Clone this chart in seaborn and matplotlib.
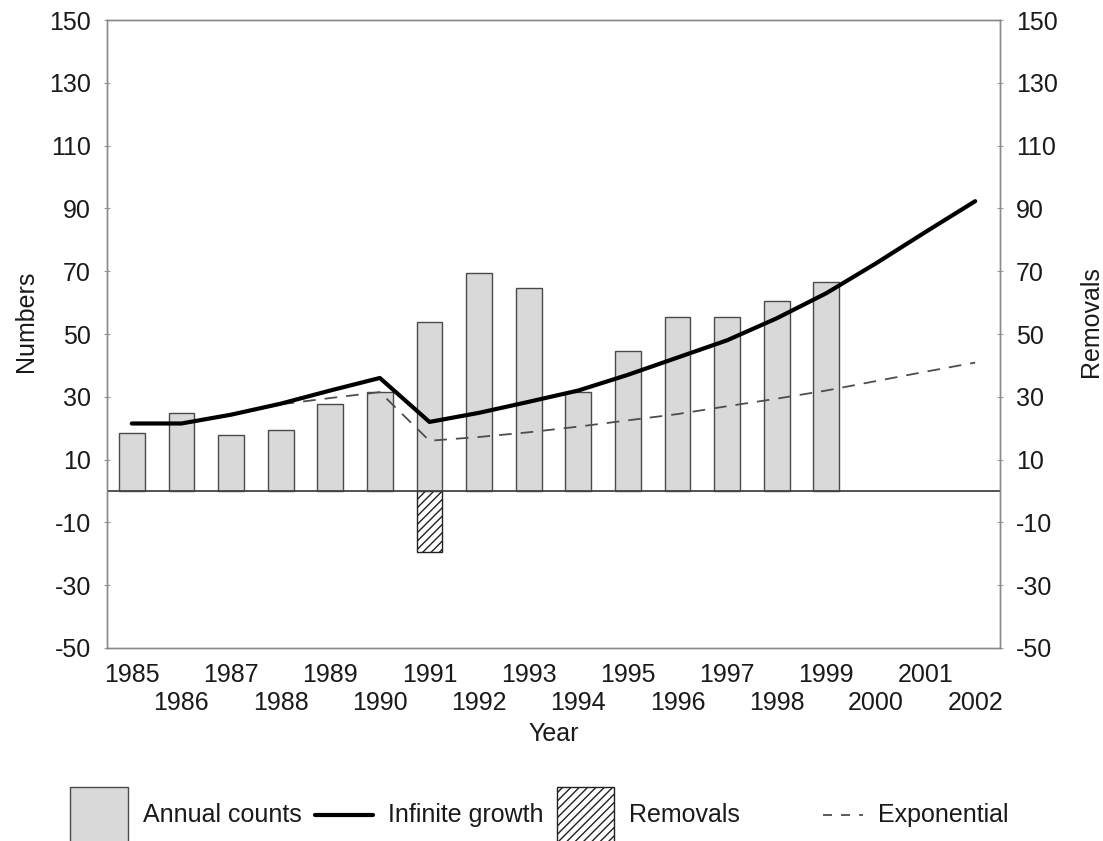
import numpy as np
import pandas as pd
import matplotlib
matplotlib.use("Agg")
import matplotlib.pyplot as plt
import seaborn as sns
from matplotlib.patches import Patch
from matplotlib.lines import Line2D
from matplotlib.legend_handler import HandlerLine2D

# ---- data -------------------------------------------------------------
years = [str(y) for y in range(1985, 2003)]
count_years = [str(y) for y in range(1985, 2000)]
annual_counts = [18.5, 24.8, 17.8, 19.5, 27.6, 31.4, 53.7, 69.5, 64.5,
                 31.6, 44.7, 55.5, 55.5, 60.6, 66.6]
removal_years = ["1991"]
removals = [-19.3]
infinite_growth = [21.5, 21.5, 24.3, 27.8, 32.0, 36.0, 22.0, 24.9, 28.4,
                   32.0, 37.0, 42.5, 48.0, 55.0, 63.0, 72.5, 82.5, 92.3]
exponential = [21.5, 21.5, 24.3, 27.6, 29.6, 31.5, 16.0, 17.2, 18.7,
               20.5, 22.5, 24.5, 27.0, 29.4, 32.0, 35.0, 38.0, 40.9]
y_ticks = list(range(-50, 151, 20))

# ---- style ------------------------------------------------------------
sns.set_style("white")
plt.rcParams["font.family"] = ["Liberation Sans", "DejaVu Sans"]
plt.rcParams["axes.unicode_minus"] = False
plt.rcParams["hatch.linewidth"] = 1.0
FS = 18
TXT = "#1a1a1a"
SPINE = "#8a8a8a"


class CenteredLineHandler(HandlerLine2D):
    """Legend line drawn at the vertical middle of a tall handle box."""

    def create_artists(self, legend, orig_handle, xdescent, ydescent,
                       width, height, fontsize, trans):
        arts = super().create_artists(legend, orig_handle, xdescent, ydescent,
                                      width, height, fontsize, trans)
        for a in arts:
            a.set_ydata(np.asarray(a.get_ydata(), dtype=float) - ydescent / 2)
        return arts


fig = plt.figure(figsize=(11.03, 8.41), dpi=100)
ax = fig.add_axes([0.097, 0.2295, 0.8096, 0.7467])

counts_df = pd.DataFrame({"Year": count_years, "Numbers": annual_counts})
sns.barplot(data=counts_df, x="Year", y="Numbers", order=years,
            color="#d9d9d9", saturation=1, width=0.52,
            edgecolor="#4a4a4a", linewidth=1.0, ax=ax, zorder=2)

rem_df = pd.DataFrame({"Year": removal_years, "Removals": removals})
sns.barplot(data=rem_df, x="Year", y="Removals", order=years,
            color="white", saturation=1, width=0.52, hatch="////",
            edgecolor="#222222", linewidth=1.0, ax=ax, zorder=2)

idx = np.arange(len(years))
sns.lineplot(x=idx, y=exponential, color="#4d4d4d", lw=1.3,
             linestyle=(0, (7, 5)), ax=ax, zorder=3)
sns.lineplot(x=idx, y=infinite_growth, color="black", lw=3.0,
             ax=ax, zorder=4)

ax.axhline(0, color="#444444", lw=1.3, zorder=3)

ax.set_xlim(-0.5, len(years) - 0.5)
ax.set_ylim(-50, 150)
ax.set_yticks(y_ticks)
ax.set_xticks(idx)
ax.set_xticklabels(years, fontsize=FS, color=TXT)
ax.tick_params(axis="x", length=0, pad=11)
ax.tick_params(axis="y", labelsize=FS, labelcolor=TXT, length=5,
               direction="inout", color="#9a9a9a", pad=9)
# staggered year labels: every second year sits on a lower row
for i, tick in enumerate(ax.xaxis.get_major_ticks()):
    if i % 2 == 1:
        tick.set_pad(31)
ax.set_xlabel("Year", fontsize=FS, color=TXT, labelpad=5)
ax.set_ylabel("Numbers", fontsize=FS, color=TXT, labelpad=8)
ax.yaxis.label.set_y(0.52)

for s in ax.spines.values():
    s.set_color(SPINE)
    s.set_linewidth(1.0)

ax2 = ax.twinx()
ax2.set_ylim(-50, 150)
ax2.set_yticks(y_ticks)
ax2.tick_params(axis="y", labelsize=FS, labelcolor=TXT, length=5,
                direction="inout", color="#9a9a9a", pad=9)
ax2.set_ylabel("Removals", fontsize=FS, color=TXT, labelpad=15)
ax2.yaxis.label.set_y(0.52)
for s in ax2.spines.values():
    s.set_color(SPINE)
    s.set_linewidth(1.0)

# ---- legend -----------------------------------------------------------
growth_handle = Line2D([], [], color="black", lw=3.0)
main_handles = [
    Patch(facecolor="#d9d9d9", edgecolor="#4a4a4a", linewidth=1.0),
    growth_handle,
    Patch(facecolor="white", edgecolor="#222222", hatch="////", linewidth=1.0),
]
main_labels = ["Annual counts", "Infinite growth", "Removals"]
leg1 = fig.legend(main_handles, main_labels, loc="center left",
                  bbox_to_anchor=(0.0635, 0.031), ncol=3, frameon=False,
                  fontsize=FS, handlelength=2.3, handleheight=3.0,
                  handletextpad=0.6, columnspacing=0.55,
                  borderpad=0, borderaxespad=0,
                  handler_map={growth_handle: CenteredLineHandler()})
for t in leg1.get_texts():
    t.set_color(TXT)

expo_handle = Line2D([], [], color="#4d4d4d", lw=1.3, linestyle=(0, (5, 5)))
leg2 = fig.legend([expo_handle], ["Exponential"], loc="center left",
                  bbox_to_anchor=(0.746, 0.031), frameon=False,
                  fontsize=FS, handlelength=1.6, handleheight=3.0,
                  handletextpad=0.6, borderpad=0, borderaxespad=0,
                  handler_map={expo_handle: CenteredLineHandler()})
for t in leg2.get_texts():
    t.set_color(TXT)

fig.savefig("out.png", dpi=100)
